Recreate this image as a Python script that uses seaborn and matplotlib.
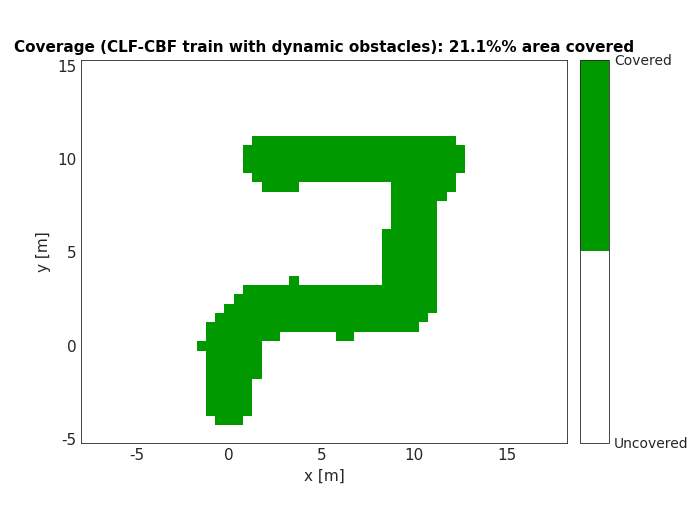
import numpy as np
import matplotlib
matplotlib.use("Agg")
import matplotlib.pyplot as plt
import seaborn as sns
from matplotlib.colors import ListedColormap

# covered cells: (row y centre, first x centre, last x centre), cell size 0.5
covered_segments = [
    (11.0, 1.5, 12.0),
    (10.5, 1.0, 12.5), (10.0, 1.0, 12.5), (9.5, 1.0, 12.5),
    (9.0, 1.5, 12.0),
    (8.5, 2.0, 3.5), (8.5, 9.0, 12.0),
    (8.0, 9.0, 11.5),
    (7.5, 9.0, 11.0), (7.0, 9.0, 11.0), (6.5, 9.0, 11.0),
    (6.0, 8.5, 11.0), (5.5, 8.5, 11.0), (5.0, 8.5, 11.0), (4.5, 8.5, 11.0),
    (4.0, 8.5, 11.0), (3.5, 8.5, 11.0), (3.5, 3.5, 3.5),
    (3.0, 1.0, 11.0),
    (2.5, 0.5, 11.0),
    (2.0, 0.0, 11.0),
    (1.5, -0.5, 10.5),
    (1.0, -1.0, 10.0),
    (0.5, -1.0, 2.5), (0.5, 6.0, 6.5),
    (0.0, -1.5, 1.5),
    (-0.5, -1.0, 1.5), (-1.0, -1.0, 1.5), (-1.5, -1.0, 1.5),
    (-2.0, -1.0, 1.0), (-2.5, -1.0, 1.0), (-3.0, -1.0, 1.0), (-3.5, -1.0, 1.0),
    (-4.0, -0.5, 0.5),
]
coverage_pct = 21.1
cell = 0.5
x_centres = np.arange(-8.0, 18.0 + cell / 2, cell)
y_centres = np.arange(-5.0, 15.0 + cell / 2, cell)

grid = np.zeros((len(y_centres), len(x_centres)))
for yc, x0, x1 in covered_segments:
    iy = int(round((yc - y_centres[0]) / cell))
    ix0 = int(round((x0 - x_centres[0]) / cell))
    ix1 = int(round((x1 - x_centres[0]) / cell))
    grid[iy, ix0:ix1 + 1] = 1

sns.set_style("white")
plt.rcParams['font.family'] = ['DejaVu Sans']
plt.rcParams['axes.unicode_minus'] = False

fig = plt.figure(figsize=(7, 5.25), dpi=100)
ax = fig.add_axes([81 / 700, 82 / 525, 486 / 700, 383 / 525])
cax = fig.add_axes([580 / 700, 82 / 525, 29 / 700, 383 / 525])

cmap = ListedColormap(["white", "#009900"])
x_edges = np.append(x_centres - cell / 2, x_centres[-1] + cell / 2)
y_edges = np.append(y_centres - cell / 2, y_centres[-1] + cell / 2)
mesh = ax.pcolormesh(x_edges, y_edges, grid, cmap=cmap, vmin=0, vmax=1)

ax.set_xlim(-8, 18.25)
ax.set_ylim(-5.2, 15.3)
ax.set_xticks([-5, 0, 5, 10, 15])
ax.set_yticks([-5, 0, 5, 10, 15])
ax.tick_params(direction="in", length=4, labelsize=11, color="#262626",
               labelcolor="#262626", top=True, right=True)
for s in ax.spines.values():
    s.set_color("#262626")
    s.set_linewidth(0.6)
ax.set_xlabel("x [m]", fontsize=11, color="#262626")
ax.set_ylabel("y [m]", fontsize=11, color="#262626")
ax.set_title(f"Coverage (CLF-CBF train with dynamic obstacles): {coverage_pct}%% area covered",
             fontsize=11, fontweight="bold", color="black")

cb = fig.colorbar(mesh, cax=cax, ticks=[0, 1])
cb.ax.set_yticklabels(["Uncovered", "Covered"])
cb.ax.tick_params(length=0, labelsize=10, labelcolor="#262626")
cb.outline.set_linewidth(0.6)

fig.savefig("out.png", dpi=100)
